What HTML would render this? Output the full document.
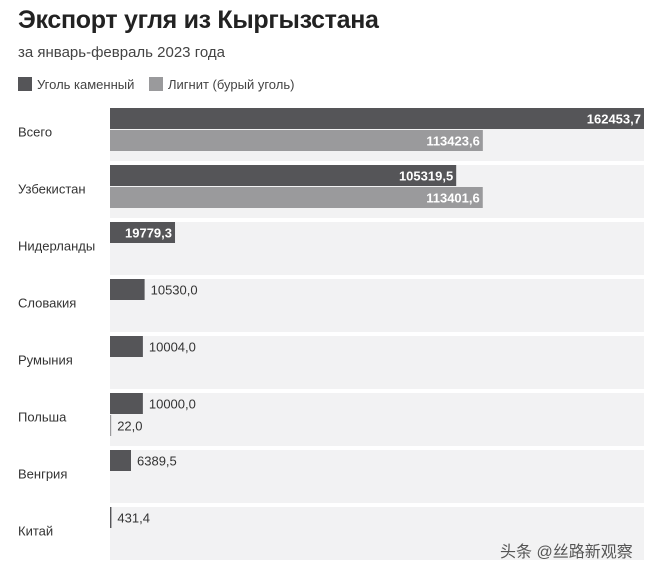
<!DOCTYPE html>
<html><head><meta charset="utf-8">
<style>
html,body{margin:0;padding:0;background:#fff;width:655px;height:581px;overflow:hidden}
body{font-family:"Liberation Sans Narrow","Liberation Sans","Noto Sans CJK SC",sans-serif;color:#333}
#title{position:absolute;left:18px;top:6px;font-size:25px;font-weight:bold;color:#222;font-family:"Liberation Sans",sans-serif;letter-spacing:-0.3px}
#sub{position:absolute;left:18px;top:44px;font-size:15px;color:#444}
.leg{position:absolute;top:77px;font-size:13px;color:#444}
.leg i{display:inline-block;width:14px;height:14px;vertical-align:-2px;margin-right:5px}
#wm{position:absolute;left:500px;top:538px;font-size:16px;color:#555;font-family:"Liberation Sans","Noto Sans CJK SC",sans-serif}
</style></head><body>
<div id="title">Экспорт угля из Кыргызстана</div>
<div id="sub">за январь-февраль 2023 года</div>
<div class="leg" style="left:18px"><i style="background:#555558"></i>Уголь каменный</div>
<div class="leg" style="left:149px"><i style="background:#9a9a9c"></i>Лигнит (бурый уголь)</div>
<svg id="chart" width="655" height="581" style="position:absolute;left:0;top:0"></svg>
<div id="wm">头条 @丝路新观察</div>
<script>
const categories=["Всего","Узбекистан","Нидерланды","Словакия","Румыния","Польша","Венгрия","Китай"];
const hardCoal=[162453.7,105319.5,19779.3,10530.0,10004.0,10000.0,6389.5,431.4];
const lignite=[113423.6,113401.6,0,0,0,22.0,0,0];
const hardLabels=["162453,7","105319,5","19779,3","10530,0","10004,0","10000,0","6389,5","431,4"];
const lignLabels=["113423,6","113401,6","","","","22,0","",""];
const NS="http://www.w3.org/2000/svg";
const svg=document.getElementById('chart');
const x0=110,x1=644,maxV=162453.7;
const xs=v=>(x1-x0)*v/maxV;
const top0=108,step=57,groupH=53,barH=21;
function mk(t,a){const e=document.createElementNS(NS,t);for(const k in a)e.setAttribute(k,a[k]);svg.appendChild(e);return e;}
categories.forEach((c,i)=>{
  const gy=top0+i*step;
  const bg=mk('rect',{x:x0,y:gy,width:x1-x0,height:groupH,fill:'#f2f2f3'});
  
  
  const lab=mk('text',{x:18,y:gy+groupH/2+2,'font-size':13,fill:'#333'});
  lab.textContent=c;
  
  
  [[hardCoal,hardLabels,'#555558',0],[lignite,lignLabels,'#9a9a9c',1]].forEach(([arr,labs,col,k])=>{
    const v=arr[i];if(!labs[i])return;
    const w=Math.max(xs(v),1.2);const y=gy+k*(barH+1);
    const b=mk('rect',{x:x0,y:y,width:w,height:barH,fill:col});
    
    
    const inside=w>60;
    const t=mk('text',{x:inside?x0+w-3:x0+w+6,y:y+barH/2+5,'font-size':13,'text-anchor':inside?'end':'start','font-weight':inside?'bold':'normal',fill:inside?'#fff':'#333'});
    t.textContent=labs[i];
    
    
  });
});
</script>
</body></html>
